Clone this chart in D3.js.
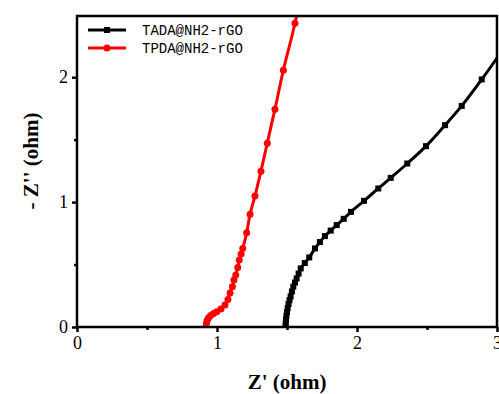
<!DOCTYPE html>
<html>
<head>
<meta charset="utf-8">
<script src="https://cdn.jsdelivr.net/npm/d3@7"></script>
<style>
  html, body { margin: 0; padding: 0; background: #fff; }
  svg { display: block; }
</style>
</head>
<body>
<svg id="chart" width="499" height="394"></svg>
<script>
// ---- data ----
const seriesNames = ["TADA@NH2-rGO", "TPDA@NH2-rGO"];
const seriesColors = ["#000000", "#ff0000"];

// TADA@NH2-rGO  (Z', -Z'')
const tadaX = [1.490, 1.491, 1.493, 1.496, 1.500, 1.505, 1.511, 1.518, 1.526, 1.535, 1.545, 1.557, 1.569, 1.583, 1.598, 1.627, 1.659, 1.700, 1.735, 1.771, 1.812, 1.855, 1.905, 1.957, 2.050, 2.152, 2.241, 2.359, 2.493, 2.629, 2.748, 2.891, 3.060];
const tadaY = [0.005, 0.030, 0.060, 0.090, 0.120, 0.150, 0.185, 0.215, 0.245, 0.285, 0.323, 0.356, 0.389, 0.428, 0.469, 0.512, 0.557, 0.629, 0.680, 0.728, 0.772, 0.816, 0.866, 0.922, 1.010, 1.109, 1.194, 1.309, 1.448, 1.616, 1.770, 1.982, 2.250];

// TPDA@NH2-rGO  (Z', -Z'')
const tpdaX = [0.922, 0.924, 0.930, 0.940, 0.955, 0.975, 0.998, 1.028, 1.057, 1.078, 1.093, 1.110, 1.121, 1.134, 1.148, 1.159, 1.172, 1.184, 1.212, 1.236, 1.271, 1.314, 1.359, 1.414, 1.474, 1.557, 1.620];
const tpdaY = [0.005, 0.030, 0.055, 0.075, 0.092, 0.108, 0.122, 0.145, 0.176, 0.220, 0.272, 0.322, 0.376, 0.416, 0.477, 0.536, 0.585, 0.629, 0.754, 0.902, 1.048, 1.248, 1.472, 1.744, 2.056, 2.432, 2.800];

const xTicks = [0, 1, 2, 3];
const yTicks = [0, 1, 2];
const xMinor = [0.5, 1.5, 2.5];
const yMinor = [0.5, 1.5];

// ---- layout ----
const svg = d3.select("#chart");
const L = 77, R = 497, T = 16, B = 327;
const x = d3.scaleLinear().domain([0, 3]).range([L, R]);
const y = d3.scaleLinear().domain([0, 2.49]).range([B, T]);

svg.append("defs").append("clipPath").attr("id", "clip")
  .append("rect").attr("x", L).attr("y", T).attr("width", R - L).attr("height", B - T);

const serif = "'Liberation Serif', 'Times New Roman', serif";

// axes
const xAxis = svg.append("g").attr("transform", `translate(0,${B})`)
  .call(d3.axisBottom(x).tickValues(xTicks).tickFormat(d3.format("d")).tickSize(5).tickPadding(4));
const xAxisMinor = svg.append("g").attr("transform", `translate(0,${B})`)
  .call(d3.axisBottom(x).tickValues(xMinor).tickFormat("").tickSize(3));
const yAxis = svg.append("g").attr("transform", `translate(${L},0)`)
  .call(d3.axisLeft(y).tickValues(yTicks).tickFormat(d3.format("d")).tickSize(5).tickPadding(4));
const yAxisMinor = svg.append("g").attr("transform", `translate(${L},0)`)
  .call(d3.axisLeft(y).tickValues(yMinor).tickFormat("").tickSize(3));

[xAxis, xAxisMinor, yAxis, yAxisMinor].forEach(g => {
  g.select(".domain").remove();
  g.selectAll(".tick line").attr("stroke", "#000").attr("stroke-width", 2.5);
  g.selectAll(".tick text").attr("fill", "#000")
    .style("font-family", serif).style("font-size", "18px");
});

// series
const plot = svg.append("g").attr("clip-path", "url(#clip)");
const line = d3.line().x(d => x(d[0])).y(d => y(d[1])).curve(d3.curveCatmullRom.alpha(0.5));
const tada = tadaX.map((v, i) => [v, tadaY[i]]);
const tpda = tpdaX.map((v, i) => [v, tpdaY[i]]);

plot.append("path").datum(tada).attr("d", line)
  .attr("fill", "none").attr("stroke", seriesColors[0]).attr("stroke-width", 3);
plot.selectAll(".sq").data(tada).enter().append("rect")
  .attr("x", d => x(d[0]) - 3).attr("y", d => y(d[1]) - 3)
  .attr("width", 6).attr("height", 6).attr("fill", seriesColors[0]);

plot.append("path").datum(tpda).attr("d", line)
  .attr("fill", "none").attr("stroke", seriesColors[1]).attr("stroke-width", 3);
plot.selectAll(".ci").data(tpda).enter().append("circle")
  .attr("cx", d => x(d[0])).attr("cy", d => y(d[1])).attr("r", 3.5)
  .attr("fill", seriesColors[1]);

// frame
svg.append("rect").attr("x", L).attr("y", T).attr("width", R - L).attr("height", B - T)
  .attr("fill", "none").attr("stroke", "#000").attr("stroke-width", 2.5);

// legend
const lg = svg.append("g");
seriesNames.forEach((name, i) => {
  const yy = 30 + i * 18;
  lg.append("line").attr("x1", 88).attr("x2", 126).attr("y1", yy).attr("y2", yy)
    .attr("stroke", seriesColors[i]).attr("stroke-width", 3);
  if (i === 0) {
    lg.append("rect").attr("x", 104).attr("y", yy - 3).attr("width", 6).attr("height", 6)
      .attr("fill", seriesColors[i]);
  } else {
    lg.append("circle").attr("cx", 107).attr("cy", yy).attr("r", 3.5).attr("fill", seriesColors[i]);
  }
  lg.append("text").attr("x", 142).attr("y", yy + 5).text(name)
    .style("font-family", "'Liberation Mono', 'Courier New', monospace")
    .style("font-size", "14px").attr("fill", "#000");
});

// axis titles
svg.append("text").attr("x", (L + R) / 2).attr("y", 389).attr("text-anchor", "middle")
  .style("font-family", serif).style("font-size", "21px").style("font-weight", "bold")
  .text("Z' (ohm)");
svg.append("text").attr("transform", "translate(38,161) rotate(-90)").attr("text-anchor", "middle")
  .style("font-family", serif).style("font-size", "21px").style("font-weight", "bold")
  .text("- Z'' (ohm)");
</script>
</body>
</html>
